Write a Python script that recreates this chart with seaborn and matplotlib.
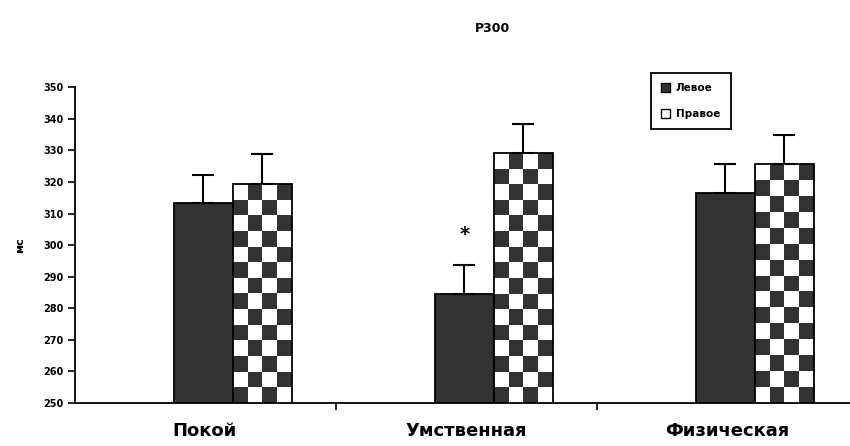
import numpy as np
import pandas as pd
import matplotlib
matplotlib.use("Agg")
import matplotlib.pyplot as plt
from matplotlib.colors import ListedColormap
from matplotlib.patches import Patch
import seaborn as sns

# data
conditions = ["Покой", "Умственная", "Физическая"]
series = ["Левое", "Правое"]
left_vals = [313.3, 284.5, 316.5]
right_vals = [319.3, 329.1, 325.6]
left_err = [8.9, 9.2, 9.1]
right_err = [9.5, 9.2, 9.2]
star_value = 303.2          # "*" above the mental-load left bar
y_ticks = list(range(250, 351, 10))

df = pd.DataFrame({
    "cond": conditions * 2,
    "side": [series[0]] * 3 + [series[1]] * 3,
    "ms": left_vals + right_vals,
    "err": left_err + right_err,
})

sns.set_style("ticks")
plt.rcParams["font.family"] = ["DejaVu Sans"]
plt.rcParams.update({"text.color": "black", "axes.labelcolor": "black",
                     "xtick.color": "black", "ytick.color": "black",
                     "axes.edgecolor": "black"})

dark = "#333333"
fig = plt.figure(figsize=(8.5, 4.46), dpi=100)
ax = fig.add_axes([75 / 850, 0.097, 775 / 850, 0.707])

sns.barplot(data=df, x="cond", y="ms", hue="side", order=conditions,
            hue_order=series, palette={series[0]: dark, series[1]: "white"},
            width=0.452, gap=0, errorbar=None, edgecolor="black",
            linewidth=1.3, legend=False, ax=ax)

ax.set_ylim(250, 350)
ax.set_xlim(-0.605, 2.364)
ax.set_yticks(y_ticks)
ax.set_yticklabels([str(v) for v in y_ticks], fontsize=7, fontweight="bold")

# category labels sit left of the bar pairs, separators between categories
offset = 0.107
ax.set_xticks([i - offset for i in range(3)])
ax.set_xticklabels(conditions, fontsize=13, fontweight="bold")
ax.tick_params(axis="x", which="major", length=0, pad=14)
ax.set_xticks([i + 0.5 - offset for i in range(-1, 3)], minor=True)
ax.tick_params(axis="x", which="minor", length=5, width=1.2, direction="out")
ax.tick_params(axis="y", length=5, width=1.2, pad=3)
ax.set_xlabel("")
ax.set_ylabel("мс", fontsize=8, fontweight="bold", labelpad=13)
for s in ["top", "right"]:
    ax.spines[s].set_visible(False)
ax.spines["left"].set_linewidth(1.3)
ax.spines["bottom"].set_linewidth(1.3)

bars_left = ax.containers[0]
bars_right = ax.containers[1]

# one-sided error bars
for bars, errs in [(bars_left, left_err), (bars_right, right_err)]:
    xs = [p.get_x() + p.get_width() / 2 for p in bars]
    ys = [p.get_height() for p in bars]
    ax.errorbar(xs, ys, yerr=[np.zeros(len(errs)), errs], fmt="none",
                ecolor="black", elinewidth=1.5, capsize=8, capthick=1.5, zorder=3)

# checkerboard fill for the right-side bars
fig.canvas.draw()
checker_cmap = ListedColormap(["white", dark])
for p in bars_right:
    x0, w, top = p.get_x(), p.get_width(), p.get_height()
    (px0, py0), (px1, py1) = ax.transData.transform([(x0, 250), (x0 + w, top)])
    ncol = max(1, int(round((px1 - px0) / 16)))
    nrow = max(1, int(round((py1 - py0) / 16)))
    board = np.indices((nrow, ncol)).sum(axis=0) % 2
    im = ax.imshow(board, cmap=checker_cmap, extent=(x0, x0 + w, 250, top),
                   aspect="auto", interpolation="nearest", zorder=1.5)
    im.set_clip_path(p)
    p.set_facecolor("none")
    p.set_zorder(2)

ax.set_xlim(-0.605, 2.364)
ax.set_ylim(250, 350)

# significance mark
p = bars_left[1]
ax.text(p.get_x() + p.get_width() / 2, star_value, "*", ha="center", va="center",
        fontsize=14, fontweight="bold")

handles = [Patch(facecolor=dark, edgecolor="black", label=series[0]),
           Patch(facecolor="white", edgecolor="black", label=series[1])]
leg = ax.legend(handles=handles, loc="upper left",
                bbox_to_anchor=(651 / 850, 1 - 73 / 446),
                bbox_transform=fig.transFigure, borderaxespad=0,
                fancybox=False, framealpha=1, edgecolor="black",
                prop={"size": 7.5, "weight": "bold"}, handlelength=0.8,
                handleheight=0.9, handletextpad=0.6, labelspacing=1.5,
                borderpad=1.0)
leg.get_frame().set_linewidth(1.3)

fig.text(492 / 850, 1 - 28 / 446, "P300", ha="center", va="center",
         fontsize=9, fontweight="bold")

fig.savefig("out.png", dpi=100)
